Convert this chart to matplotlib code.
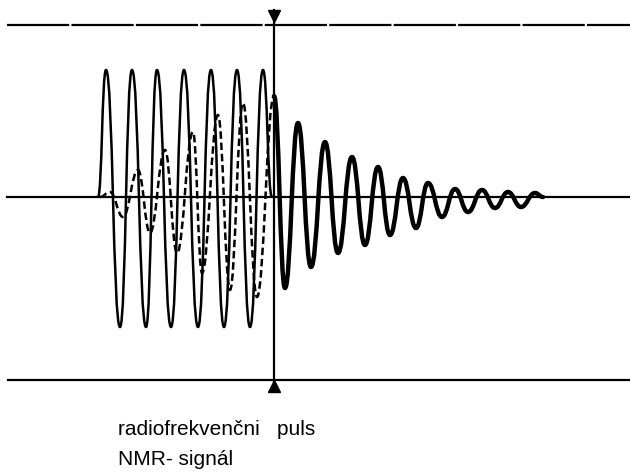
import matplotlib
matplotlib.use("Agg")
import matplotlib.pyplot as plt
from matplotlib.path import Path
from matplotlib.patches import PathPatch

# extrema (x in px, amplitude in px above the baseline)
pulse_x = [98, 106, 120, 132, 146, 157, 171, 184, 198, 211, 224, 237, 250, 263, 272]
pulse_a = [0, 127, -130, 127, -130, 127, -130, 127, -130, 127, -130, 127, -130, 127, 0]

signal_x = [100, 110, 123, 138, 150, 165, 177, 193, 202, 218, 230, 243, 257, 274]
signal_a = [0, 5, -20, 27, -36, 47, -56, 65, -76, 82, -93, 94, -100, 101]

fid_x = [274, 285, 298, 311, 325, 338, 352, 365, 378, 390, 403, 416, 428, 442,
         455, 468, 482, 495, 508, 521, 535, 543]
fid_a = [101, -91, 74, -70, 55, -56, 40, -48, 30, -38, 19, -31, 14, -20,
         8, -15, 7, -11, 5, -10, 4, 0]

labels = ["radiofrekvenčni   puls", "NMR- signál"]


def wave(xs, ys, k=0.36):
    # smooth curve through the extrema, flat tangent at each one
    verts = [(xs[0], ys[0])]
    codes = [Path.MOVETO]
    for i in range(1, len(xs)):
        d = (xs[i] - xs[i - 1]) * k
        verts += [(xs[i - 1] + d, ys[i - 1]), (xs[i] - d, ys[i]), (xs[i], ys[i])]
        codes += [Path.CURVE4] * 3
    return Path(verts, codes)


fig = plt.figure(figsize=(6.3, 4.75), dpi=100)
ax = fig.add_axes([0, 0, 1, 1])
ax.set_xlim(0, 630)
ax.set_ylim(-278, 197)
ax.axis("off")

# frame lines
ax.plot([7, 630], [172, 172], color="black", lw=1.6, dashes=(28, 1))
ax.plot([7, 630], [0, 0], color="black", lw=1.6)
ax.plot([8, 630], [-183, -183], color="black", lw=1.6)

# pulse end marker
ax.plot([274, 274], [187, -190], color="black", lw=1.6)
ax.plot(274, 181, marker="v", color="black", markersize=9)
ax.plot(274, -189, marker="^", color="black", markersize=9)

ax.add_patch(PathPatch(wave(pulse_x, pulse_a, 0.5), fill=False, lw=1.8, ec="black"))
ax.add_patch(PathPatch(wave(signal_x, signal_a, 0.42), fill=False, lw=1.8, ec="black",
                       linestyle=(0, (3, 1.5))))
ax.add_patch(PathPatch(wave(fid_x, fid_a, 0.45), fill=False, lw=3.2, ec="black",
                       capstyle="round", joinstyle="round"))

ax.text(118, -238, labels[0], fontsize=15, family="Liberation Sans", va="baseline")
ax.text(118, -268, labels[1], fontsize=15, family="Liberation Sans", va="baseline")

fig.savefig("out.png", dpi=100)
